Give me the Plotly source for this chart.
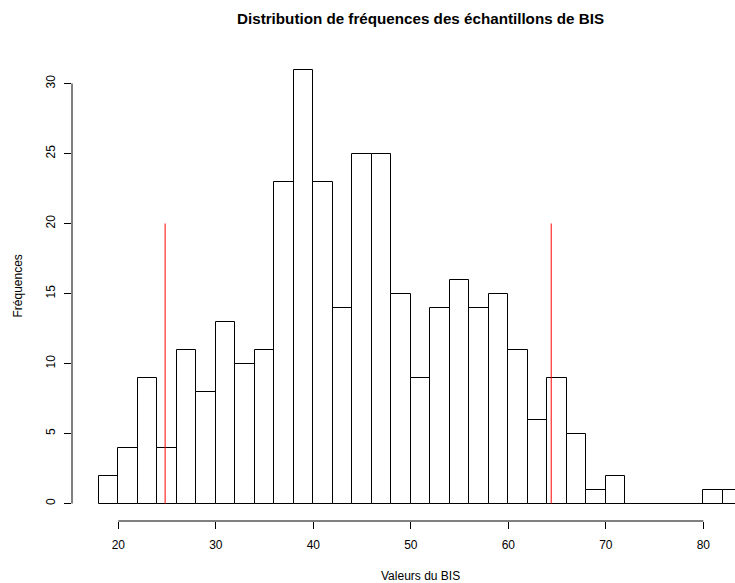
import plotly.graph_objects as go

# Histogram of BIS values: 2-unit bins from 18 to 84
bin_left = [18, 20, 22, 24, 26, 28, 30, 32, 34, 36, 38, 40, 42, 44, 46, 48, 50,
            52, 54, 56, 58, 60, 62, 64, 66, 68, 70, 72, 74, 76, 78, 80, 82]
counts = [2, 4, 9, 4, 11, 8, 13, 10, 11, 23, 31, 23, 14, 25, 25, 15, 9,
          14, 16, 14, 15, 11, 6, 9, 5, 1, 2, 0, 0, 0, 0, 1, 1]
bin_width = 2

# Reference limits drawn as red vertical segments
limit_values = [24.8, 64.4]
limit_height = 20

x_ticks = [20, 30, 40, 50, 60, 70, 80]
y_ticks = [0, 5, 10, 15, 20, 25, 30]

FONT = "Liberation Sans, Arial, Helvetica, sans-serif"

centers = [b + bin_width / 2 for b in bin_left]

fig = go.Figure()

fig.add_trace(go.Bar(
    x=centers, y=counts, width=[bin_width] * len(centers),
    marker=dict(color="white", line=dict(color="black", width=1)),
    hoverinfo="x+y", showlegend=False,
))

# baseline under empty bins
empty_x = []
for b, c in zip(bin_left, counts):
    if c == 0:
        empty_x += [b, b + bin_width, None]
fig.add_trace(go.Scatter(
    x=empty_x, y=[0 if v is not None else None for v in empty_x], mode="lines",
    line=dict(color="black", width=1), showlegend=False, hoverinfo="skip",
))

for v in limit_values:
    fig.add_trace(go.Scatter(
        x=[v, v], y=[0, limit_height], mode="lines",
        line=dict(color="#ff0000", width=1), showlegend=False,
    ))

# R-style axis lines spanning only the first to the last tick
fig.add_shape(type="line", xref="x", yref="paper",
              x0=x_ticks[0], x1=x_ticks[-1], y0=0, y1=0,
              line=dict(color="black", width=1))
fig.add_shape(type="line", xref="paper", yref="y",
              x0=0, x1=0, y0=y_ticks[0], y1=y_ticks[-1],
              line=dict(color="black", width=1))

fig.update_xaxes(
    range=[15.25, 83.25], tickvals=x_ticks, ticktext=[str(t) for t in x_ticks],
    ticks="outside", ticklen=7, tickcolor="black", tickwidth=1,
    showline=False, showgrid=False, zeroline=False,
    tickfont=dict(family=FONT, size=12, color="black"),
    ticklabelstandoff=6,
)
fig.update_yaxes(
    range=[-1.25, 32.25], tickvals=y_ticks, ticktext=[str(t) for t in y_ticks],
    ticks="outside", ticklen=7, tickcolor="black", tickwidth=1,
    showline=False, showgrid=False, zeroline=False, tickangle=-90,
    tickfont=dict(family=FONT, size=12, color="black"),
    ticklabelstandoff=4,
)

fig.update_layout(
    width=735, height=583,
    margin=dict(l=72, r=0, t=52, b=62),
    paper_bgcolor="white", plot_bgcolor="white",
    bargap=0, showlegend=False,
    font=dict(family=FONT, size=12, color="black"),
    annotations=[
        dict(text="<b>Distribution de fréquences des échantillons de BIS</b>",
             xref="paper", yref="paper", x=0.525, y=1, yshift=34,
             xanchor="center", yanchor="middle", showarrow=False,
             font=dict(family=FONT, size=15.2, color="black")),
        dict(text="Valeurs du BIS", xref="paper", yref="paper",
             x=0.525, y=0, yshift=-55, xanchor="center", yanchor="middle",
             showarrow=False, font=dict(family=FONT, size=12, color="black")),
        dict(text="Fréquences", xref="paper", yref="paper",
             x=0, xshift=-55, y=0.5, xanchor="center", yanchor="middle",
             textangle=-90, showarrow=False,
             font=dict(family=FONT, size=12, color="black")),
    ],
)

fig.write_html("out.html")
